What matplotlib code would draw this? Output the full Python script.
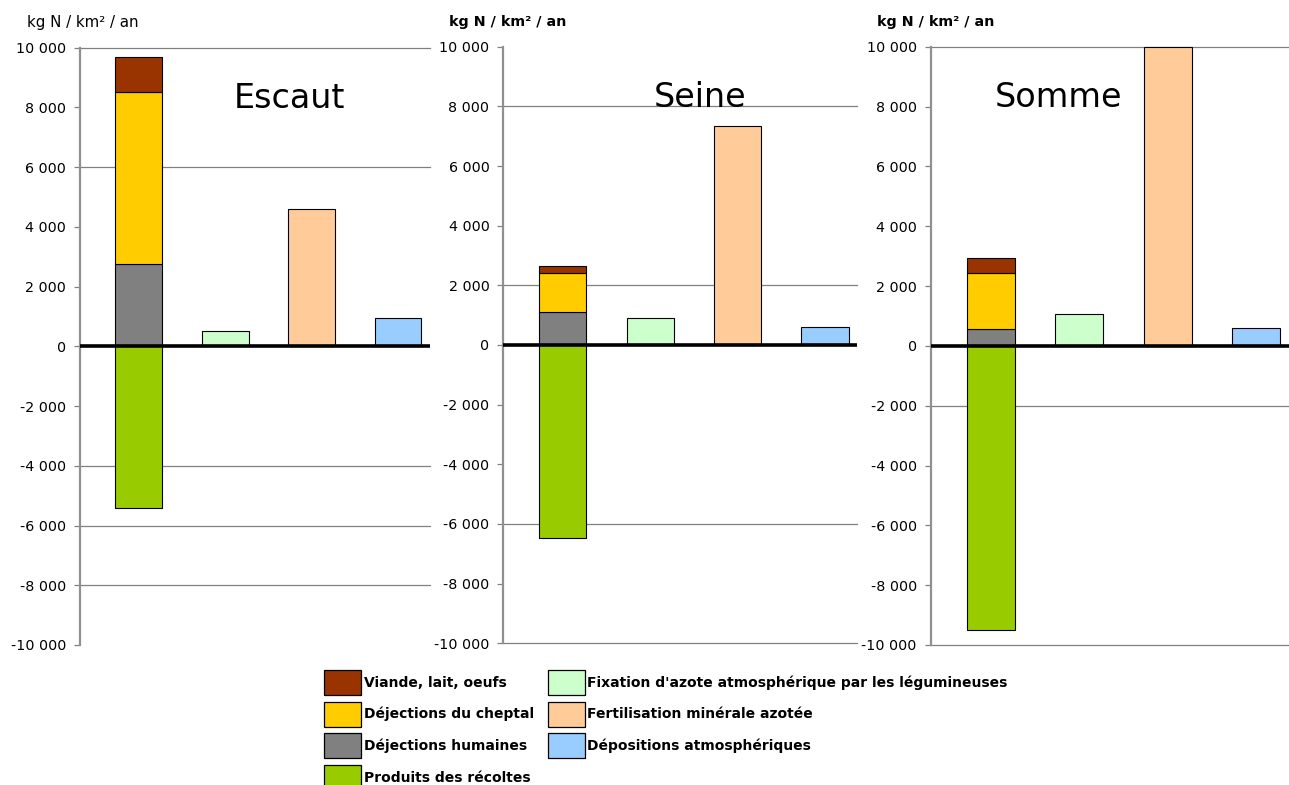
import matplotlib.pyplot as plt
from matplotlib.patches import Patch
from matplotlib.ticker import FuncFormatter

# kg N / km2 / an, one value per basin
basins = ['Escaut', 'Seine', 'Somme']
viande = [1200, 250, 470]
dej_cheptal = [5750, 1300, 1900]
dej_humaines = [2750, 1100, 550]
recoltes = [-5400, -6480, -9500]
fixation = [530, 890, 1080]
fertilisation = [4600, 7350, 10000]
depositions = [960, 610, 600]

labels = ['Viande, lait, oeufs', 'Déjections du cheptal', 'Déjections humaines',
          'Produits des récoltes',
          "Fixation d'azote atmosphérique par les légumineuses",
          'Fertilisation minérale azotée', 'Dépositions atmosphériques']
colors = ['#993300', '#FFCC00', '#808080', '#99CC00', '#CCFFCC', '#FFCC99', '#99CCFF']

# gridlines that show in each panel
grids = [[10000, 6000, -4000, -6000, -8000],
         [8000, 2000, -6000, -10000],
         [10000, -2000, -10000]]

W, H = 1289, 785
fig = plt.figure(figsize=(W / 100, H / 100), dpi=100)

# left, right, top, bottom in pixels for each panel
boxes = [(80, 430, 47.7, 645), (503.3, 857.3, 46.7, 643.3), (930.7, 1289, 46.7, 645)]
title_x = [0.597, 0.556, 0.358]
unit_x = [27, 449, 877]

fmt = FuncFormatter(lambda v, p: ('-' if v < 0 else '') + f'{abs(int(v)):,}'.replace(',', ' '))

for i, name in enumerate(basins):
    l, r, t, b = boxes[i]
    ax = fig.add_axes([l / W, 1 - b / H, (r - l) / W, (b - t) / H])
    w = 0.54
    ax.bar(0, dej_humaines[i], w, color=colors[2], edgecolor='black', lw=0.8, zorder=2)
    ax.bar(0, dej_cheptal[i], w, bottom=dej_humaines[i], color=colors[1],
           edgecolor='black', lw=0.8, zorder=2)
    ax.bar(0, viande[i], w, bottom=dej_humaines[i] + dej_cheptal[i], color=colors[0],
           edgecolor='black', lw=0.8, zorder=2)
    ax.bar(0, recoltes[i], w, color=colors[3], edgecolor='black', lw=0.8, zorder=2)
    ax.bar(1, fixation[i], w, color=colors[4], edgecolor='black', lw=0.8, zorder=2)
    ax.bar(2, fertilisation[i], w, color=colors[5], edgecolor='black', lw=0.8, zorder=2,
           clip_on=False)
    ax.bar(3, depositions[i], w, color=colors[6], edgecolor='black', lw=0.8, zorder=2)

    for g in grids[i]:
        ax.axhline(g, color='#808080', lw=0.9, zorder=1, clip_on=False)
    ax.axhline(0, color='black', lw=2.6, zorder=3)

    ax.set_xlim(-0.68, 3.37)
    ax.set_ylim(-10000, 10000)
    ax.set_yticks(range(-10000, 10001, 2000))
    ax.yaxis.set_major_formatter(fmt)
    ax.set_xticks([])
    ax.tick_params(axis='y', length=4, width=0.9, color='#808080', pad=6,
                   labelsize=10.3)
    for s in ['top', 'right', 'bottom']:
        ax.spines[s].set_visible(False)
    ax.spines['left'].set_color('#909090')
    ax.spines['left'].set_linewidth(1.6)
    ax.patch.set_alpha(0)

    ax.text(title_x[i], 0.899, name, transform=ax.transAxes, ha='center',
            va='baseline', fontsize=24)
    fig.text(unit_x[i] / W, 1 - 22 / H, 'kg N / km² / an', ha='left', va='center',
             fontsize=10.8 if i == 0 else 10.3,
             fontweight='normal' if i == 0 else 'bold')

handles = [Patch(facecolor=c, edgecolor='black', lw=0.9) for c in colors]
fig.legend(handles, labels, ncol=2, loc='upper left',
           bbox_to_anchor=(324 / W, 1 - 670 / H), frameon=False,
           prop={'size': 10, 'weight': 'bold'}, handlelength=2.66,
           handleheight=2.39, labelspacing=0.48, handletextpad=0.2,
           columnspacing=1.0, borderpad=0, borderaxespad=0)

fig.savefig('out.png', dpi=100)
